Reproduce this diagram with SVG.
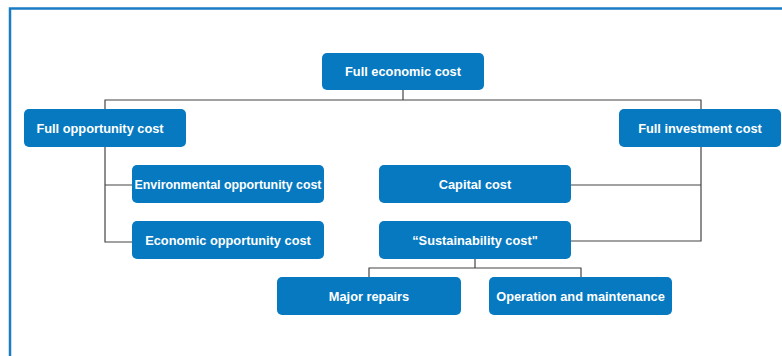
<svg xmlns="http://www.w3.org/2000/svg" width="782" height="356" viewBox="0 0 782 356">
  <style>
    .box { fill: #0679c0; }
    .lbl { fill: #ffffff; font-family: "Liberation Sans", Arial, sans-serif; font-weight: bold; font-size: 12.8px; text-anchor: middle; dominant-baseline: central; }
    .wire { fill: none; stroke: #444444; stroke-width: 1.2; }
    .frame { fill: none; stroke: #1a7cc4; stroke-width: 2.5; }
  </style>
  <rect width="782" height="356" fill="#ffffff"/>
  <path class="frame" d="M10,360 V8.5 H790"/>

  <g id="connectors">
    <path class="wire" d="M403,90 V100 M105,109 V100 H701 V109"/>
    <path class="wire" d="M105,147 V242 H132 M105,185 H132"/>
    <path class="wire" d="M701,147 V241 H571 M701,185 H571"/>
    <path class="wire" d="M475,259 V268 M369,277 V268 H581 V277"/>
  </g>

  <g id="full-economic-cost">
    <rect class="box" x="322" y="53" width="162" height="37" rx="5"/>
    <text class="lbl" x="403" y="71.5">Full economic cost</text>
  </g>
  <g id="full-opportunity-cost">
    <rect class="box" x="24" y="109" width="162" height="38" rx="5"/>
    <text class="lbl" x="100" y="128">Full opportunity cost</text>
  </g>
  <g id="full-investment-cost">
    <rect class="box" x="619" y="109" width="162" height="38" rx="5"/>
    <text class="lbl" x="700" y="128">Full investment cost</text>
  </g>
  <g id="environmental-opportunity-cost">
    <rect class="box" x="132" y="165" width="192" height="38" rx="5"/>
    <text class="lbl" x="228" y="184" textLength="187" lengthAdjust="spacingAndGlyphs">Environmental opportunity cost</text>
  </g>
  <g id="economic-opportunity-cost">
    <rect class="box" x="132" y="221" width="192" height="38" rx="5"/>
    <text class="lbl" x="228" y="240">Economic opportunity cost</text>
  </g>
  <g id="capital-cost">
    <rect class="box" x="379" y="165" width="192" height="38" rx="5"/>
    <text class="lbl" x="475" y="184">Capital cost</text>
  </g>
  <g id="sustainability-cost">
    <rect class="box" x="379" y="221" width="192" height="38" rx="5"/>
    <text class="lbl" x="475" y="240">“Sustainability cost"</text>
  </g>
  <g id="major-repairs">
    <rect class="box" x="277" y="277" width="184" height="38" rx="5"/>
    <text class="lbl" x="369" y="296">Major repairs</text>
  </g>
  <g id="operation-and-maintenance">
    <rect class="box" x="489" y="277" width="183" height="38" rx="5"/>
    <text class="lbl" x="580.5" y="296">Operation and maintenance</text>
  </g>
</svg>
